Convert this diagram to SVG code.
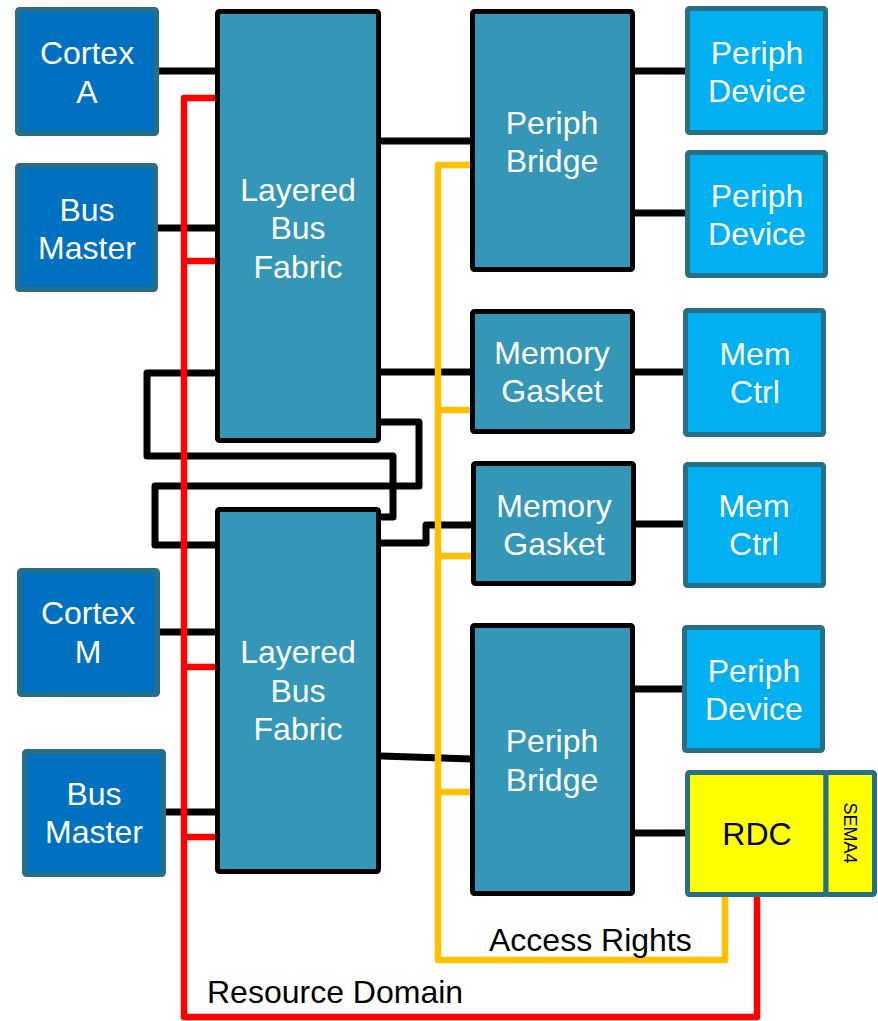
<svg xmlns="http://www.w3.org/2000/svg" width="878" height="1021" viewBox="0 0 878 1021">
<style>
text{font-family:"Liberation Sans",Arial,sans-serif;font-size:32px;text-anchor:middle}
.w{fill:#fff}
.k{fill:#000}
.master{fill:#0070C0;stroke:#266F86;stroke-width:5}
.fab{fill:#3597B8;stroke:#000;stroke-width:5}
.dev{fill:#00B0F0;stroke:#266F86;stroke-width:5}
.rdc{fill:#FFFF00;stroke:#266F86;stroke-width:5}
.bk{fill:none;stroke:#000;stroke-width:7;stroke-linejoin:round}
.rd{fill:none;stroke:#FF0000;stroke-width:6.5;stroke-linejoin:round}
.ye{fill:none;stroke:#FFC000;stroke-width:6.5;stroke-linejoin:round}
</style>
<g id="connectors">
<path class="bk" d="M159,71H217"/>
<path class="bk" d="M158,228H217"/>
<path class="bk" d="M381,141H472"/>
<path class="bk" d="M381,372H472"/>
<path class="bk" d="M635,71H685"/>
<path class="bk" d="M635,213H685"/>
<path class="bk" d="M635,372H683"/>
<path class="bk" d="M636,524H683"/>
<path class="bk" d="M635,689H682"/>
<path class="bk" d="M635,833H685"/>
<path class="bk" d="M160,632H217"/>
<path class="bk" d="M166,812H217"/>
<path class="bk" d="M381,756L472,759"/>
<path class="bk" d="M381,543H426V525H473"/>
<path class="bk" d="M217,373H147V456H393V517H381"/>
<path class="bk" d="M381,422H419V486H155V545H217"/>
<path class="rd" d="M217,98H184V1017H757V897"/>
<path class="rd" d="M184,261H217M184,667H217M184,837H217"/>
<path class="ye" d="M472,165H438V960H725V897"/>
<path class="ye" d="M438,410H472M438,556H473M438,792H472"/>
</g>
<g id="cortexA"><rect class="master" x="17.5" y="9.5" width="139" height="124" rx="2"/><text class="w" x="87" y="64">Cortex</text><text class="w" x="87" y="103">A</text></g>
<g id="busMaster1"><rect class="master" x="17.5" y="165.5" width="138" height="124" rx="2"/><text class="w" x="87" y="221">Bus</text><text class="w" x="87" y="259">Master</text></g>
<g id="cortexM"><rect class="master" x="19.5" y="570.5" width="138" height="124" rx="2"/><text class="w" x="88" y="624">Cortex</text><text class="w" x="88" y="663">M</text></g>
<g id="busMaster2"><rect class="master" x="24.5" y="751.5" width="139" height="123" rx="2"/><text class="w" x="94" y="805">Bus</text><text class="w" x="94" y="843">Master</text></g>
<g id="fabric1"><rect class="fab" x="217.5" y="11.5" width="161" height="429" rx="2"/><text class="w" x="298" y="201">Layered</text><text class="w" x="298" y="239">Bus</text><text class="w" x="298" y="278">Fabric</text></g>
<g id="fabric2"><rect class="fab" x="217.5" y="509.5" width="161" height="362" rx="2"/><text class="w" x="298" y="663">Layered</text><text class="w" x="298" y="702">Bus</text><text class="w" x="298" y="740">Fabric</text></g>
<g id="bridge1"><rect class="fab" x="472.5" y="11.5" width="160" height="258" rx="2"/><text class="w" x="552" y="134">Periph</text><text class="w" x="552" y="172">Bridge</text></g>
<g id="gasket1"><rect class="fab" x="472.5" y="311.5" width="160" height="120" rx="2"/><text class="w" x="552" y="364">Memory</text><text class="w" x="552" y="402">Gasket</text></g>
<g id="gasket2"><rect class="fab" x="473.5" y="463.5" width="160" height="120" rx="2"/><text class="w" x="554" y="517">Memory</text><text class="w" x="554" y="555">Gasket</text></g>
<g id="bridge2"><rect class="fab" x="472.5" y="625.5" width="160" height="268" rx="2"/><text class="w" x="552" y="752">Periph</text><text class="w" x="552" y="791">Bridge</text></g>
<g id="device1"><rect class="dev" x="687.5" y="8.5" width="138" height="124" rx="2"/><text class="w" x="757" y="64">Periph</text><text class="w" x="757" y="102">Device</text></g>
<g id="device2"><rect class="dev" x="687.5" y="152.5" width="138" height="123" rx="2"/><text class="w" x="757" y="207">Periph</text><text class="w" x="757" y="245">Device</text></g>
<g id="memctrl1"><rect class="dev" x="685.5" y="310.5" width="138" height="124" rx="2"/><text class="w" x="755" y="365">Mem</text><text class="w" x="755" y="403">Ctrl</text></g>
<g id="memctrl2"><rect class="dev" x="685.5" y="464.5" width="138" height="121" rx="2"/><text class="w" x="754" y="517">Mem</text><text class="w" x="754" y="555">Ctrl</text></g>
<g id="device3"><rect class="dev" x="684.5" y="627.5" width="138" height="123" rx="2"/><text class="w" x="754" y="682">Periph</text><text class="w" x="754" y="720">Device</text></g>
<g id="rdc"><rect class="rdc" x="687.5" y="772.5" width="138.5" height="122" rx="2"/><text class="k" x="757" y="845">RDC</text></g>
<g id="sema4"><rect class="rdc" x="826" y="772.5" width="48.5" height="122" rx="2"/><text class="k" transform="translate(844,833) rotate(90)" x="0" y="0" style="font-size:18px">SEMA4</text></g>
<g id="labels"><text class="k" x="489" y="951" style="text-anchor:start">Access Rights</text><text class="k" x="207" y="1003" style="text-anchor:start">Resource Domain</text></g>
</svg>
